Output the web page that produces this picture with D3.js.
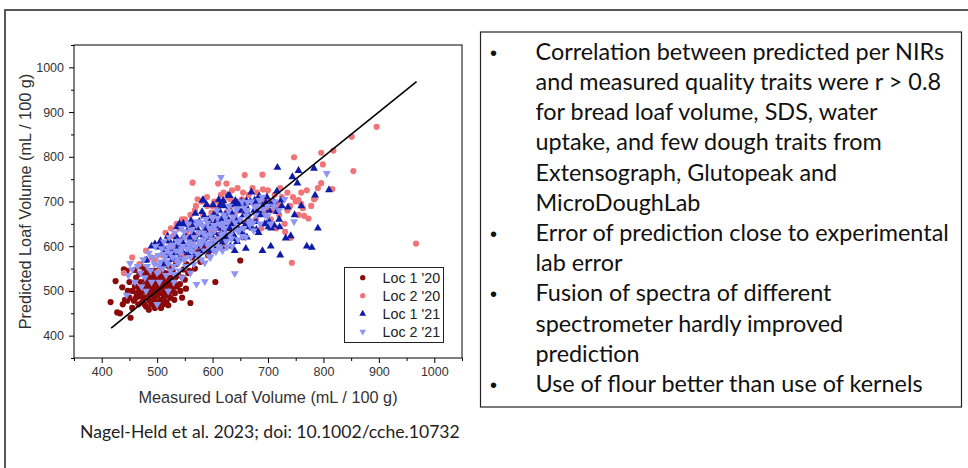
<!DOCTYPE html>
<html><head><meta charset="utf-8">
<script src="https://cdn.jsdelivr.net/npm/d3@7"></script>
<style>html,body{margin:0;padding:0;background:#fff;}svg{display:block;}</style>
</head><body>
<svg id="c" width="968" height="468"></svg>
<script>
// ---------- DATA ----------
const seriesNames = ["Loc 1 '20", "Loc 2 '20", "Loc 1 '21", "Loc 2 '21"];
const xTicks = [400, 500, 600, 700, 800, 900, 1000];
const yTicks = [400, 500, 600, 700, 800, 900, 1000];
const minorTicks = [350, 450, 550, 650, 750, 850, 950, 1050];
const fitLine = [[417, 417], [968, 968]];

const loc1_20 = [[416,475],[425,522],[428,452],[433,450],[438,470],[440,548],[442,480],[445,545],[447,500],[450,485],[452,440],[455,462],[458,478],[460,510],[462,530],[463,495],[466,470],[468,505],[470,520],[471,488],[473,475],[475,540],[476,500],[478,512],[480,465],[481,530],[483,492],[485,520],[486,478],[488,505],[489,545],[490,470],[491,515],[493,488],[494,532],[495,500],[496,478],[498,520],[499,545],[500,490],[501,470],[502,510],[503,535],[505,498],[506,480],[507,525],[508,550],[510,505],[511,470],[512,490],[513,518],[515,540],[516,500],[517,475],[518,528],[520,490],[521,555],[522,512],[524,485],[525,530],[527,500],[528,545],[530,520],[532,495],[534,560],[536,510],[538,535],[540,570],[542,500],[545,485],[548,548],[550,525],[553,560],[556,540],[560,473],[563,575],[568,550],[572,590],[578,565],[585,600],[592,580],[600,610],[605,520],[612,625],[620,600],[630,640],[640,655],[650,568],[655,620],[714,681],[460,547],[470,555],[478,548],[505,555],[483,500],[497,505],[512,480],[488,530],[500,520],[509,495],
[465,490],[472,500],[477,485],[482,510],[487,495],[492,505],[497,490],[503,515],[508,500],[514,510],[519,495],[523,520],[528,505],[533,530],[479,525],[484,540],[494,545],[504,542],[515,525],[525,545],[455,500],[450,520],[446,478],[437,508],[462,485],[468,538],[496,462],[507,462],[520,468],[531,480],[541,515],[546,530],[552,505],[558,545],[488,515],[499,530],[511,535],[477,470],[485,458],[493,525]];

const loc2_20 = [[440,540],[455,575],[468,560],[480,590],[490,575],[495,570],[502,543],[505,600],[510,580],[515,560],[520,612],[525,590],[529,623],[532,570],[535,600],[540,640],[545,615],[548,580],[550,660],[553,630],[556,595],[559,618],[562,645],[564,742],[565,610],[568,680],[570,625],[573,705],[575,600],[578,650],[580,630],[583,670],[585,610],[588,640],[590,690],[593,620],[595,655],[598,675],[600,635],[603,700],[605,615],[608,660],[610,685],[612,640],[615,715],[618,650],[620,700],[622,625],[625,740],[625,675],[628,710],[630,655],[633,690],[635,725],[638,660],[640,700],[643,640],[645,730],[648,680],[650,660],[653,705],[655,640],[658,759],[660,690],[663,670],[665,715],[668,650],[672,730],[675,695],[678,660],[680,720],[684,690],[688,640],[692,705],[696,680],[700,725],[705,660],[710,700],[715,640],[720,690],[725,710],[730,650],[735,680],[741,619],[743,563],[747,799],[750,700],[755,670],[760,720],[765,668],[770,725],[773,662],[778,690],[783,705],[790,730],[796,741],[796,809],[799,783],[816,728],[818,814],[851,845],[854,768],[896,867],[967,606],[690,760],[610,740],
[691,727],[755,703],[731,632],[785,707],[763,685],[760,695],[700,700],[712,715],[722,730],[735,720],[745,710],[700,650],[720,670],[740,690],[680,680],[668,700],[655,720],[645,700],[632,705],[620,720],[610,700],[600,690],[590,710],[580,700],[570,690],[560,670],[545,660],[535,650],[525,640],[515,630],[640,670],[660,650],[690,700],[705,680],[715,695]];

const loc1_21 = [[478,568],[490,600],[496,605],[502,598],[508,602],[512,560],[515,590],[518,578],[522,612],[525,595],[528,570],[530,605],[532,585],[535,620],[538,598],[540,650],[541,575],[543,610],[545,590],[548,648],[550,625],[552,600],[555,585],[557,640],[560,610],[562,595],[565,628],[567,580],[570,615],[572,640],[574,600],[576,655],[578,625],[580,590],[582,703],[584,615],[585,667],[587,640],[589,605],[590,630],[592,660],[594,620],[596,590],[598,645],[600,610],[602,670],[604,630],[606,655],[608,600],[610,640],[612,680],[614,625],[616,660],[618,610],[620,690],[622,645],[624,620],[626,665],[628,714],[630,640],[632,600],[634,675],[636,650],[638,625],[640,695],[642,660],[644,610],[646,640],[648,680],[650,655],[652,700],[654,630],[656,670],[658,645],[660,690],[662,620],[665,660],[668,700],[670,721],[672,640],[675,680],[678,655],[680,700],[683,630],[686,670],[690,690],[694,650],[698,710],[702,680],[706,640],[710,700],[716,723],[717,776],[720,660],[722,580],[725,690],[732,618],[741,623],[744,755],[748,670],[753,741],[755,769],[760,690],[770,600],[779,597],[783,774],[785,714],[790,640],[810,726],[705,600],[690,590],[660,595],[640,590],
[547,651],[583,703],[481,569],[496,603],[506,612],[519,622],[536,643],[561,657],[569,673],[581,677],[589,693],[601,692],[611,704],[619,702],[631,713],[641,702],[649,693],[661,702],[669,698],[681,677],[689,673],[701,657],[594,652],[606,672],[614,693],[626,677],[636,693],[644,697],[656,683],[664,672],[676,703],[684,712],[696,697],[704,693],[716,677],[724,703],[736,687],[701,643],[711,647],[721,643],[679,637],[661,643],[639,617],[621,633],[599,622],[581,612],[559,617],[546,608],[524,597],[566,648]];

const loc2_21 = [[445,491],[448,535],[451,562],[455,548],[460,520],[465,555],[470,540],[472,510],[475,570],[478,530],[480,500],[482,555],[485,585],[488,545],[490,520],[492,575],[495,560],[497,600],[500,540],[502,580],[504,520],[506,565],[508,595],[510,550],[512,610],[514,575],[516,535],[518,590],[520,560],[522,620],[524,545],[526,600],[528,575],[530,555],[532,630],[534,590],[536,565],[538,610],[540,545],[542,585],[544,640],[546,600],[548,570],[550,620],[552,555],[554,595],[556,650],[558,610],[560,575],[562,635],[564,590],[566,560],[568,620],[570,600],[571,515],[572,655],[574,580],[576,630],[578,605],[580,570],[582,645],[584,615],[586,521],[586,590],[588,660],[590,625],[592,600],[594,640],[596,575],[598,615],[600,665],[602,590],[604,635],[606,610],[608,680],[610,600],[612,650],[615,754],[616,625],[618,590],[620,670],[622,640],[625,610],[628,655],[630,690],[632,625],[635,600],[638,665],[640,539],[640,640],[643,680],[646,615],[650,660],[653,700],[656,640],[660,620],[663,680],[666,655],[670,700],[674,635],[678,670],[682,690],[686,650],[690,710],[695,670],[700,690],[705,650],[712,700],[720,680],[730,705],[747,655],[806,763],[560,540],[545,530],[520,500],[500,470],[530,520],
[503,557],[517,566],[524,584],[537,572],[544,594],[557,602],[563,606],[577,611],[583,629],[597,626],[604,645],[617,646],[623,664],[637,666],[644,684],[657,686],[663,698],[676,688],[684,703],[511,582],[521,598],[529,603],[541,612],[549,633],[561,637],[571,648],[578,653],[591,652],[602,647],[609,663],[621,652],[629,678],[551,572],[559,593],[572,583],[579,603],[591,607],[598,603],[612,617],[619,628],[631,627],[641,653],[649,637],[661,668],[668,657],[586,563],[594,577],[606,588],[614,597],[626,598],[634,617],[646,633],[654,622],[667,648],[673,652],[691,683],[699,667],[711,688],[531,537],[539,563]];

const bulletLines = [
  {b:true,  t:"Correlation between predicted per NIRs"},
  {b:false, t:"and measured quality traits were r > 0.8"},
  {b:false, t:"for bread loaf volume, SDS, water"},
  {b:false, t:"uptake, and few dough traits from"},
  {b:false, t:"Extensograph, Glutopeak and"},
  {b:false, t:"MicroDoughLab"},
  {b:true,  t:"Error of prediction close to experimental"},
  {b:false, t:"lab error"},
  {b:true,  t:"Fusion of spectra of different"},
  {b:false, t:"spectrometer hardly improved"},
  {b:false, t:"prediction"},
  {b:true,  t:"Use of flour better than use of kernels"}
];
const footerText = "Nagel-Held et al. 2023; doi: 10.1002/cche.10732";
const xTitle = "Measured Loaf Volume (mL / 100 g)";
const yTitle = "Predicted Loaf Volume (mL / 100 g)";

// ---------- DRAW ----------
const svg = d3.select("#c");
const F = "'Liberation Sans', Arial, sans-serif";
const FB = "Lato, 'Open Sans', sans-serif";

svg.append("path").attr("d","M5,468 L5,10 L968,10").attr("fill","none").attr("stroke","#222").attr("stroke-width",1.5);

const L = 74, R = 462, T = 45, B = 358;
const x = d3.scaleLinear().domain([350,1050]).range([L,R]);
const y = d3.scaleLinear().domain([350,1050]).range([B,T]);
const fmt = d3.format("d");

const gx = svg.append("g").attr("transform",`translate(0,${B})`)
  .call(d3.axisBottom(x).tickValues(xTicks).tickFormat(fmt).tickSize(5).tickPadding(4).tickSizeOuter(0));
const gxm = svg.append("g").attr("transform",`translate(0,${B})`)
  .call(d3.axisBottom(x).tickValues(minorTicks).tickSize(3).tickFormat("").tickSizeOuter(0));
const gy = svg.append("g").attr("transform",`translate(${L},0)`)
  .call(d3.axisLeft(y).tickValues(yTicks).tickFormat(fmt).tickSize(5).tickPadding(5).tickSizeOuter(0));
const gym = svg.append("g").attr("transform",`translate(${L},0)`)
  .call(d3.axisLeft(y).tickValues(minorTicks).tickSize(3).tickFormat("").tickSizeOuter(0));
[gx,gxm,gy,gym].forEach(g=>{
  g.select(".domain").remove();
  g.selectAll("line").attr("stroke","#000");
  g.selectAll("text").attr("font-family",F).attr("font-size",12.5).attr("fill","#333");
});

const sym = (type,size)=>d3.symbol().type(type).size(size)();
const styles = [
  {data:loc1_20, color:"#8b0a0a", shape:"circle"},
  {data:loc2_20, color:"#f07578", shape:"circle"},
  {data:loc1_21, color:"#0d1ba8", shape:"up"},
  {data:loc2_21, color:"#8f95f4", shape:"down"}
];
const plot = svg.append("g");
function drawMarker(g, s, cx, cy, scale){
  if (s.shape==="circle"){
    g.append("circle").attr("cx",cx).attr("cy",cy).attr("r",3.1*scale).attr("fill",s.color);
  } else {
    g.append("path").attr("d",sym(d3.symbolTriangle,27*scale*scale))
      .attr("transform",`translate(${cx},${cy})${s.shape==="down"?" rotate(180)":""}`)
      .attr("fill",s.color);
  }
}
styles.forEach(s=>{
  s.data.forEach(d=>drawMarker(plot, s, x(d[0]), y(d[1]), 1));
});

svg.append("line")
  .attr("x1",x(fitLine[0][0])).attr("y1",y(fitLine[0][1]))
  .attr("x2",x(fitLine[1][0])).attr("y2",y(fitLine[1][1]))
  .attr("stroke","#000").attr("stroke-width",1.6);

svg.append("rect").attr("x",L).attr("y",T).attr("width",R-L).attr("height",B-T)
  .attr("fill","none").attr("stroke","#000").attr("stroke-width",1);

const lg = svg.append("g");
lg.append("rect").attr("x",344.5).attr("y",267.5).attr("width",99).attr("height",75)
  .attr("fill","#fff").attr("stroke","#222").attr("stroke-width",1);
styles.forEach((s,i)=>{
  const yy = 277.7 + i*18;
  drawMarker(lg, s, 362.7, yy, 0.85);
  lg.append("text").attr("x",382.5).attr("y",yy+5).text(seriesNames[i])
    .attr("font-family",F).attr("font-size",14.3).attr("fill","#222");
});

svg.append("text").attr("x",(L+R)/2).attr("y",403).attr("text-anchor","middle")
  .attr("font-family",F).attr("font-size",16.3).attr("fill","#333").text(xTitle);
svg.append("text").attr("transform",`translate(31,${(T+B)/2}) rotate(-90)`).attr("text-anchor","middle")
  .attr("font-family",F).attr("font-size",16.3).attr("fill","#333").text(yTitle);

svg.append("rect").attr("x",480.5).attr("y",32).attr("width",481).attr("height",375)
  .attr("fill","none").attr("stroke","#222").attr("stroke-width",1.2);
const tb = svg.append("g");
bulletLines.forEach((l,i)=>{
  const by = 59.8 + i*30.2;
  if (l.b) tb.append("text").attr("x",493.5).attr("y",by).attr("text-anchor","middle")
    .attr("font-family",F).attr("font-size",20).attr("fill","#111").text("•");
  tb.append("text").attr("x",535.5).attr("y",by).attr("font-family",FB).attr("font-size",23.4)
    .attr("fill","#111").text(l.t);
});

svg.append("text").attr("x",80).attr("y",437.5).attr("font-family",FB).attr("font-size",17.6)
  .attr("fill","#222").text(footerText);
</script>
</body></html>
